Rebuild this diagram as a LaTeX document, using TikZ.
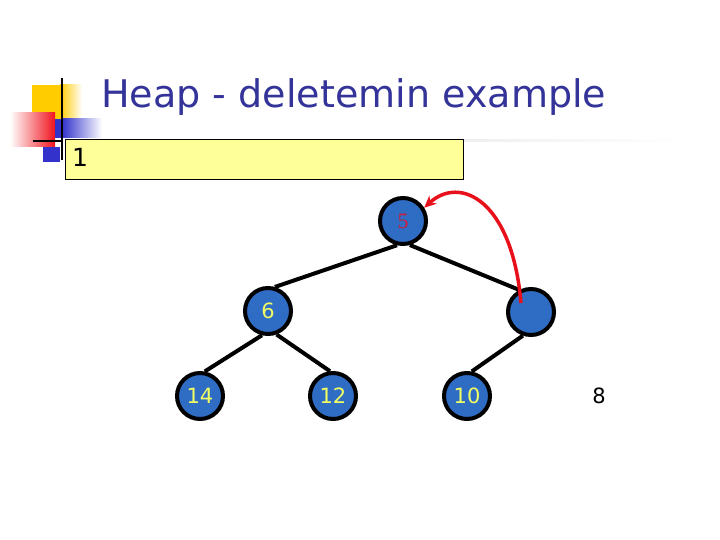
\documentclass[tikz,border=0pt]{standalone}
\usepackage{fontspec}
\setmainfont{DejaVu Sans}
\newfontfamily\serifnum{Liberation Serif}
\usetikzlibrary{arrows.meta}
\definecolor{nodeblue}{RGB}{47,108,196}
\definecolor{numyellow}{RGB}{240,255,100}
\definecolor{titleblue}{RGB}{51,51,153}
\definecolor{boxyellow}{RGB}{255,255,153}
\definecolor{decyellow}{RGB}{255,204,0}
\definecolor{decblue}{RGB}{51,51,204}
\definecolor{decred}{RGB}{240,20,30}
\definecolor{arrowred}{RGB}{232,16,26}
\definecolor{fivered}{RGB}{200,30,60}
\begin{document}
\begin{tikzpicture}[x=1pt,y=-1pt,
  heapnode/.style={circle,draw=black,line width=4pt,fill=nodeblue,minimum size=46pt,inner sep=0pt,text=numyellow,font=\fontsize{21}{21}\selectfont},
  edge/.style={line width=4pt,black},
  decoline/.style={line width=2.5pt,black}]
\useasboundingbox (0,0) rectangle (720,540);
% decoration
\fill[decyellow] (32,85) rectangle (60,120);
\shade[left color=decyellow,right color=white] (60,85) rectangle (82,120);
\shade[left color=white,right color=decred] (10,113) rectangle (55,147);
\fill[decblue] (55,119) rectangle (62,138);
\shade[left color=decblue,right color=white] (62,119) rectangle (102,138);
\fill[decblue] (43,147) rectangle (60,162);
\shade[left color=gray!35,right color=white] (65,140) rectangle (690,142);
\draw[decoline] (62,78) -- (62,160);
\draw[decoline] (33,141) -- (62,141);
% title
\node[anchor=base west,text=titleblue,inner sep=0pt] (title) at (101,108)
  {\resizebox{505pt}{!}{\fontsize{36}{36}\selectfont Heap - deletemin example}};
% yellow box
\node[draw=black,fill=boxyellow,line width=1pt,minimum width=398pt,minimum height=40pt,anchor=north west,inner sep=0pt] (box) at (65,139) {};
\node[anchor=west,inner sep=0pt,font=\fontsize{25}{25}\selectfont] (one) at (72,157) {1};
% heap
\node[heapnode,text=fivered,font=\serifnum\fontsize{22}{22}\selectfont] (n5) at (403,221) {5};
\node[heapnode] (nr) at (531,312) {};
\node[heapnode] (n6) at (268,311) {6};
\node[heapnode] (n14) at (200,396) {14};
\node[heapnode] (n12) at (333,396) {12};
\node[heapnode] (n10) at (467,396) {10};
\node[font=\fontsize{21}{21}\selectfont] (n8) at (599,396) {8};
\draw[edge] (n5.256) -- (n6.74);
\draw[edge] (n5.286) -- (nr.118);
\draw[edge] (n6.256) -- (n14.79);
\draw[edge] (n6.290) -- (n12.97);
\draw[edge] (nr.251) -- (n10.79);
% red arrow
\coordinate (astart) at (521,303);
\draw[arrowred,line width=3.5pt,-{Stealth[length=12pt,width=11pt]}]
  (astart) .. controls (512,200) and (460,175) .. (n5.32);
\end{tikzpicture}
\end{document}
